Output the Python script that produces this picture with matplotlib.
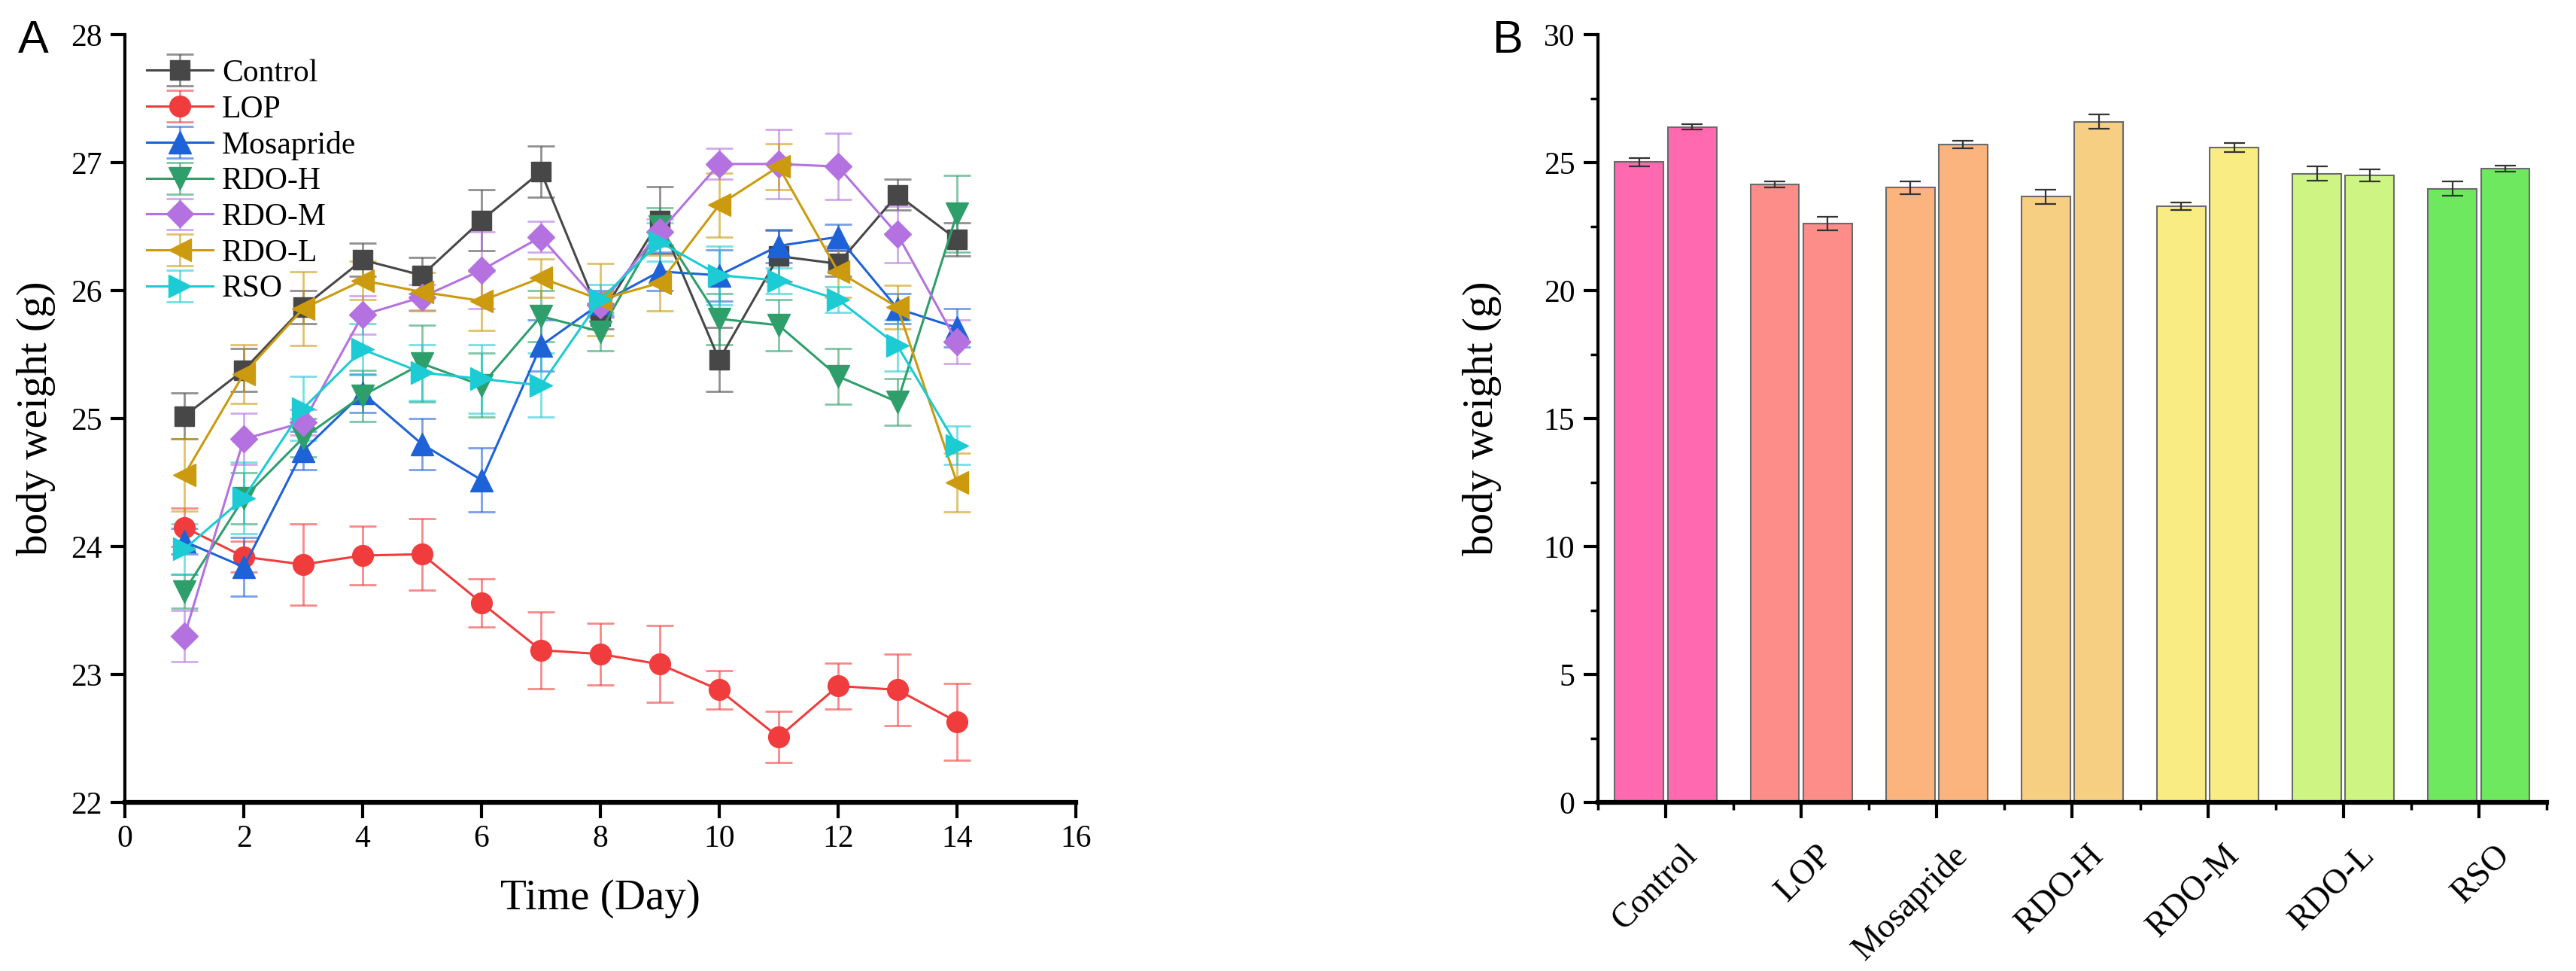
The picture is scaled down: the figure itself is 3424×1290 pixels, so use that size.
import numpy as np
import matplotlib
matplotlib.use("Agg")
import matplotlib.pyplot as plt
from matplotlib.ticker import MultipleLocator
from matplotlib.transforms import ScaledTranslation

plt.rcParams['font.family'] = ['Liberation Serif', 'DejaVu Serif']

# ---- panel A: body weight over time ----
days = list(range(1, 15))
groups = ['Control', 'LOP', 'Mosapride', 'RDO-H', 'RDO-M', 'RDO-L', 'RSO']

control = [25.02, 25.38, 25.87, 26.24, 26.12, 26.55, 26.93, 25.80, 26.55, 25.46, 26.27, 26.21, 26.75, 26.40]
control_err = [0.18, 0.17, 0.13, 0.13, 0.14, 0.24, 0.20, 0.10, 0.26, 0.25, 0.20, 0.10, 0.12, 0.13]
lop = [24.15, 23.92, 23.86, 23.93, 23.94, 23.56, 23.19, 23.16, 23.08, 22.88, 22.51, 22.91, 22.88, 22.63]
lop_err = [0.15, 0.12, 0.32, 0.23, 0.28, 0.19, 0.30, 0.24, 0.30, 0.15, 0.20, 0.18, 0.28, 0.30]
mosapride = [24.04, 23.84, 24.75, 25.20, 24.80, 24.52, 25.57, 25.90, 26.15, 26.12, 26.35, 26.42, 25.86, 25.71]
mosapride_err = [0.10, 0.23, 0.15, 0.15, 0.20, 0.25, 0.20, 0.10, 0.15, 0.20, 0.13, 0.10, 0.12, 0.15]
rdo_h = [23.65, 24.38, 24.85, 25.18, 25.43, 25.26, 25.80, 25.68, 26.50, 25.78, 25.73, 25.33, 25.13, 26.60]
rdo_h_err = [0.13, 0.20, 0.15, 0.20, 0.30, 0.25, 0.20, 0.15, 0.15, 0.20, 0.20, 0.22, 0.18, 0.30]
rdo_m = [23.30, 24.84, 24.97, 25.81, 25.95, 26.16, 26.42, 25.89, 26.46, 26.99, 26.99, 26.97, 26.44, 25.60]
rdo_m_err = [0.20, 0.20, 0.10, 0.15, 0.10, 0.30, 0.12, 0.10, 0.10, 0.12, 0.27, 0.26, 0.22, 0.17]
rdo_l = [24.56, 25.35, 25.86, 26.08, 25.99, 25.92, 26.10, 25.93, 26.06, 26.67, 26.97, 26.15, 25.87, 24.50]
rdo_l_err = [0.28, 0.23, 0.29, 0.15, 0.15, 0.23, 0.15, 0.28, 0.22, 0.25, 0.18, 0.20, 0.17, 0.23]
rso = [23.98, 24.38, 25.08, 25.54, 25.36, 25.31, 25.26, 25.93, 26.38, 26.12, 26.08, 25.93, 25.57, 24.79]
rso_err = [0.20, 0.28, 0.25, 0.20, 0.22, 0.27, 0.25, 0.12, 0.15, 0.23, 0.10, 0.10, 0.20, 0.15]

# ---- panel B: first vs last day ----
bar_first = [25.02, 24.15, 24.02, 23.67, 23.30, 24.57, 23.98]
bar_first_err = [0.15, 0.12, 0.25, 0.28, 0.15, 0.28, 0.28]
bar_last = [26.40, 22.62, 25.70, 26.60, 25.60, 24.51, 24.78]
bar_last_err = [0.10, 0.26, 0.15, 0.28, 0.17, 0.24, 0.12]

series = [control, lop, mosapride, rdo_h, rdo_m, rdo_l, rso]
series_err = [control_err, lop_err, mosapride_err, rdo_h_err, rdo_m_err, rdo_l_err, rso_err]
line_colors = ['#474747', '#f03c3c', '#1e62d8', '#2e9f6b', '#b472e0', '#cc9a0e', '#1ccbd4']
markers = ['s', 'o', '^', 'v', 'D', '<', '>']
msizes = [19, 20, 21, 21, 18, 21, 21]
bar_colors = ['#ff69b0', '#fc8d88', '#fcb47e', '#f6cf82', '#f8ec82', '#cef584', '#6ee85e']

fig = plt.figure(figsize=(34.24, 12.90), dpi=100)
ax1 = fig.add_axes([0.0485, 0.1736, 0.3691, 0.7906])
ax2 = fig.add_axes([0.6203, 0.1736, 0.3683, 0.7906])

for vals, errs, c, m, ms, name in zip(series, series_err, line_colors, markers, msizes, groups):
    ln, caps, bars = ax1.errorbar(days, vals, yerr=errs, color=c, marker=m, markersize=ms,
                                  linewidth=2.2, elinewidth=2.0, capsize=13, capthick=2.0,
                                  label=name)
    for cp in caps:
        cp.set_alpha(0.6)
    for b in bars:
        b.set_alpha(0.6)

ax1.set_xlim(0, 16)
ax1.set_ylim(22, 28)
ax1.xaxis.set_major_locator(MultipleLocator(2))
ax1.yaxis.set_major_locator(MultipleLocator(1))
ax1.set_xlabel('Time (Day)', fontsize=41, labelpad=25)
ax1.set_ylabel('body weight (g)', fontsize=41, labelpad=14)
leg = ax1.legend(loc='upper left', bbox_to_anchor=(0.0, 0.997), frameon=False, fontsize=30,
                 handlelength=2.1, handletextpad=0.3, labelspacing=0.22, borderaxespad=0.3)

# bars
x = np.arange(len(groups))
w = 0.36
ax2.bar(x - 0.195, bar_first, w, color=bar_colors, edgecolor='#6b6b6b', linewidth=1.5)
ax2.bar(x + 0.195, bar_last, w, color=bar_colors, edgecolor='#6b6b6b', linewidth=1.5)
ax2.errorbar(x - 0.195, bar_first, yerr=bar_first_err, fmt='none', ecolor='#333333',
             elinewidth=1.6, capsize=10, capthick=1.6)
ax2.errorbar(x + 0.195, bar_last, yerr=bar_last_err, fmt='none', ecolor='#333333',
             elinewidth=1.6, capsize=10, capthick=1.6)
ax2.set_xlim(-0.5, len(groups) - 0.5)
ax2.set_ylim(0, 30)
ax2.yaxis.set_major_locator(MultipleLocator(5))
ax2.yaxis.set_minor_locator(MultipleLocator(2.5))
ax2.set_xticks(x)
ax2.set_xticks(np.arange(-0.5, len(groups)), minor=True)
ax2.set_xticklabels(groups, rotation=45, ha='right', va='top', rotation_mode='anchor',
                    fontsize=33)
ax2.set_ylabel('body weight (g)', fontsize=41, labelpad=40)

for ax in (ax1, ax2):
    ax.spines['top'].set_visible(False)
    ax.spines['right'].set_visible(False)
    ax.spines['left'].set_linewidth(3)
    ax.spines['bottom'].set_linewidth(4.5)
    ax.tick_params(axis='both', which='major', direction='out', length=14, width=3,
                   labelsize=30, pad=8)
    ax.tick_params(axis='both', which='minor', direction='out', length=7, width=2.5)
ax1.tick_params(axis='x', which='major', length=15, pad=6)
ax2.tick_params(axis='x', which='major', length=15, pad=20, labelsize=33)

# labels sit a little right of their ticks
shift = ScaledTranslation(0.2, 0, fig.dpi_scale_trans)
for lab in ax2.get_xticklabels():
    lab.set_transform(lab.get_transform() + shift)

fig.text(0.007, 0.98, 'A', fontsize=44, family='Liberation Sans', va='top')
fig.text(0.5794, 0.98, 'B', fontsize=44, family='Liberation Sans', va='top')

fig.savefig('out.png', dpi=100)
